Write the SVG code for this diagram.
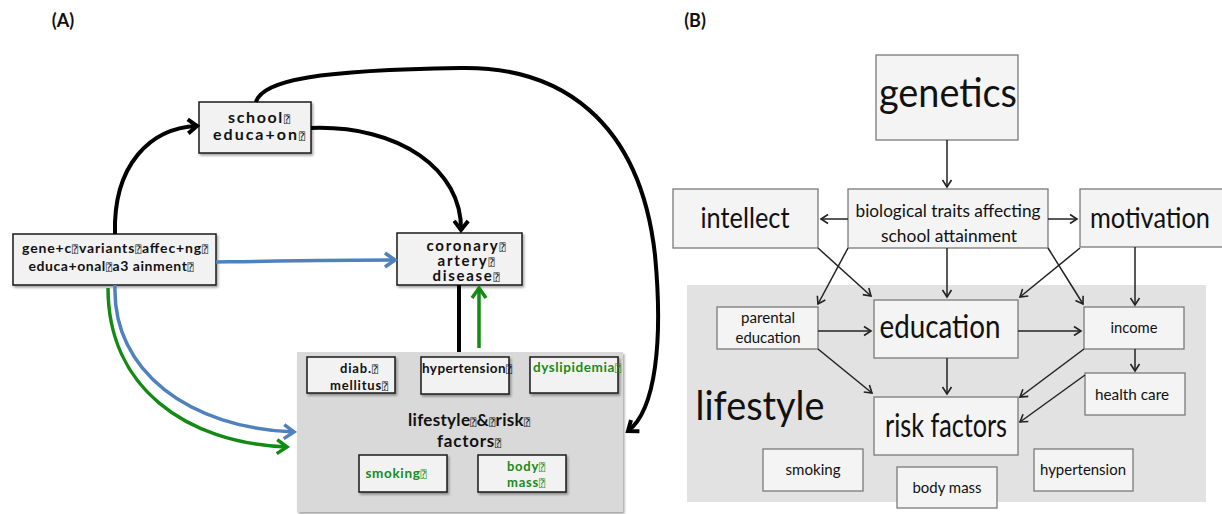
<svg xmlns="http://www.w3.org/2000/svg" width="1222" height="514" viewBox="0 0 1222 514">
<style>
.a{font-family:Lato,"DejaVu Sans",sans-serif;font-weight:bold;fill:#111;text-anchor:middle}
.g{fill:#1a8a1a}
.q{font-family:"DejaVu Sans Mono","DejaVu Sans",sans-serif;font-weight:normal;font-size:10px}
.b{font-family:Lato,"DejaVu Sans",sans-serif;fill:#111;text-anchor:middle}
.boxA{fill:#f2f2f2;stroke:#1a1a1a;stroke-width:1.5}
.boxB{fill:#f4f4f4;stroke:#7a7a7a;stroke-width:1.3}
.k{fill:none;stroke:#000;stroke-width:4}
.bl{fill:none;stroke:#4f81bd;stroke-width:3.5}
.gr{fill:none;stroke:#138a13;stroke-width:3.5}
.ln{fill:none;stroke:#222;stroke-width:1.5}
</style>
<defs>
<filter id="sh" x="-10%" y="-10%" width="130%" height="140%">
<feDropShadow dx="1.5" dy="2" stdDeviation="1.2" flood-color="#000" flood-opacity="0.35"/>
</filter>
<marker id="mk" markerUnits="userSpaceOnUse" markerWidth="20" markerHeight="20" refX="12" refY="10" orient="auto" overflow="visible">
<path d="M3,3 L12,10 L3,17" fill="none" stroke="#000" stroke-width="4"/>
</marker>
<marker id="mb" markerUnits="userSpaceOnUse" markerWidth="22" markerHeight="22" refX="13" refY="11" orient="auto" overflow="visible">
<path d="M3,4 L13,11 L3,18" fill="none" stroke="#4f81bd" stroke-width="3.5"/>
</marker>
<marker id="mg" markerUnits="userSpaceOnUse" markerWidth="22" markerHeight="22" refX="13" refY="11" orient="auto" overflow="visible">
<path d="M3,4 L13,11 L3,18" fill="none" stroke="#138a13" stroke-width="3.5"/>
</marker>
<marker id="m2" markerUnits="userSpaceOnUse" markerWidth="12" markerHeight="12" refX="8" refY="6" orient="auto" overflow="visible">
<path d="M1,1.5 L8,6 L1,10.5" fill="none" stroke="#222" stroke-width="1.6"/>
</marker>
</defs>
<rect width="1222" height="514" fill="#fff"/>

<!-- Panel A -->
<text class="a" x="63" y="27" font-size="18">(A)</text>

<g id="lifestyleA">
<rect x="297" y="352" width="326" height="160" fill="#d9d9d9" filter="url(#sh)"/>
<text class="a" x="469" y="426" font-size="17" textLength="122">lifestyle<tspan class="q">⍰</tspan>&amp;<tspan class="q">⍰</tspan>risk<tspan class="q">⍰</tspan></text>
<text class="a" x="469" y="447" font-size="17" textLength="64">factors<tspan class="q">⍰</tspan></text>
</g>
<g id="diab">
<rect class="boxA" x="307" y="357" width="88" height="36" filter="url(#sh)"/>
<text class="a" x="359" y="373" font-size="13" textLength="38">diab.<tspan class="q">⍰</tspan></text>
<text class="a" x="359" y="390" font-size="13" textLength="58">mellitus<tspan class="q">⍰</tspan></text>
</g>
<g id="hypertensionA">
<rect class="boxA" x="421" y="357" width="88" height="37" filter="url(#sh)"/>
<text class="a" x="467" y="373" font-size="13.5" textLength="90">hypertension<tspan class="q">⍰</tspan></text>
</g>
<g id="dyslipidemia">
<rect class="boxA" x="530" y="357" width="88" height="36" filter="url(#sh)"/>
<text class="a g" x="577" y="372" font-size="13.5" textLength="88">dyslipidemia<tspan class="q">⍰</tspan></text>
</g>
<g id="smokingA">
<rect class="boxA" x="359" y="455" width="88" height="37" filter="url(#sh)"/>
<text class="a g" x="396" y="478" font-size="13.5" textLength="61">smoking<tspan class="q">⍰</tspan></text>
</g>
<g id="bodymassA">
<rect class="boxA" x="478" y="455" width="88" height="37" filter="url(#sh)"/>
<text class="a g" x="526" y="471" font-size="13" textLength="38">body<tspan class="q">⍰</tspan></text>
<text class="a g" x="526" y="487" font-size="13" textLength="38">mass<tspan class="q">⍰</tspan></text>
</g>
<g id="school">
<rect class="boxA" x="199" y="102" width="112" height="51" filter="url(#sh)"/>
<text class="a" x="259" y="123" font-size="16" textLength="62">school<tspan class="q">⍰</tspan></text>
<text class="a" x="259" y="140" font-size="16" textLength="92">educa+on<tspan class="q">⍰</tspan></text>
</g>
<g id="genetic">
<rect class="boxA" x="13" y="234" width="203" height="51" filter="url(#sh)"/>
<text class="a" x="115" y="253" font-size="14" textLength="186">gene+c<tspan class="q">⍰</tspan>variants<tspan class="q">⍰</tspan>affec+ng<tspan class="q">⍰</tspan></text>
<text class="a" x="111" y="271" font-size="14" textLength="165">educa+onal<tspan class="q">⍰</tspan>a3 ainment<tspan class="q">⍰</tspan></text>
</g>
<g id="cad">
<rect class="boxA" x="397" y="233" width="125" height="52" filter="url(#sh)"/>
<text class="a" x="466" y="251" font-size="15" textLength="79">coronary<tspan class="q">⍰</tspan></text>
<text class="a" x="466" y="266" font-size="15" textLength="57">artery<tspan class="q">⍰</tspan></text>
<text class="a" x="466" y="281" font-size="15" textLength="67">disease<tspan class="q">⍰</tspan></text>
</g>

<g id="connectorsA">
<path class="k" d="M115,234 C113,165 150,128 197,126" marker-end="url(#mk)"/>
<path class="k" d="M311,128 C400,125 462,170 461,230" marker-end="url(#mk)"/>
<path class="k" d="M256,102 C262,80 320,70 460,68 C560,66 640,120 655,255 C663,340 656,410 628,431" marker-end="url(#mk)"/>
<path class="k" d="M459,285 V352"/>
<path class="bl" d="M216,262 C280,261 340,260 395,260" marker-end="url(#mb)"/>
<path class="bl" d="M115,285 C112,372 190,428 294,432" marker-end="url(#mb)"/>
<path class="gr" d="M108,288 C108,387 185,443 287,447" marker-end="url(#mg)"/>
<path class="gr" d="M479,348 V288" marker-end="url(#mg)"/>
</g>

<!-- Panel B -->
<text class="a" x="695" y="27" font-size="18">(B)</text>

<g id="lifestyleB">
<rect x="687" y="285" width="519" height="217" fill="#e2e2e2"/>
<text class="b" x="760" y="420" font-size="41" textLength="129" lengthAdjust="spacingAndGlyphs">lifestyle</text>
</g>
<g id="genetics">
<rect class="boxB" x="876" y="55" width="142" height="85"/>
<text class="b" x="948" y="107" font-size="41" textLength="138" lengthAdjust="spacingAndGlyphs">genetics</text>
</g>
<g id="biological">
<rect class="boxB" x="848" y="189" width="200" height="59"/>
<text class="b" x="948" y="217" font-size="17" textLength="185" lengthAdjust="spacingAndGlyphs">biological traits affecting</text>
<text class="b" x="949" y="242" font-size="17" textLength="136" lengthAdjust="spacingAndGlyphs">school attainment</text>
</g>
<g id="intellect">
<rect class="boxB" x="673" y="189" width="145" height="59"/>
<text class="b" x="745" y="228" font-size="29" textLength="89" lengthAdjust="spacingAndGlyphs">intellect</text>
</g>
<g id="motivation">
<rect class="boxB" x="1080" y="189" width="143" height="58"/>
<text class="b" x="1150" y="228" font-size="29" textLength="120" lengthAdjust="spacingAndGlyphs">motivation</text>
</g>
<g id="parental">
<rect class="boxB" x="717" y="307" width="101" height="42"/>
<text class="b" x="768" y="323" font-size="14.5" textLength="54" lengthAdjust="spacingAndGlyphs">parental</text>
<text class="b" x="768" y="343" font-size="14.5" textLength="65" lengthAdjust="spacingAndGlyphs">education</text>
</g>
<g id="education">
<rect class="boxB" x="874" y="300" width="144" height="58"/>
<text class="b" x="940" y="338" font-size="32" textLength="121" lengthAdjust="spacingAndGlyphs">education</text>
</g>
<g id="income">
<rect class="boxB" x="1084" y="307" width="100" height="42"/>
<text class="b" x="1134" y="333" font-size="14.5" textLength="47" lengthAdjust="spacingAndGlyphs">income</text>
</g>
<g id="healthcare">
<rect class="boxB" x="1085" y="373" width="100" height="42"/>
<text class="b" x="1132" y="400" font-size="15" textLength="74" lengthAdjust="spacingAndGlyphs">health care</text>
</g>
<g id="riskfactors">
<rect class="boxB" x="874" y="397" width="144" height="58"/>
<text class="b" x="946" y="437" font-size="32" textLength="122" lengthAdjust="spacingAndGlyphs">risk factors</text>
</g>
<g id="smokingB">
<rect class="boxB" x="763" y="449" width="100" height="42"/>
<text class="b" x="813" y="475" font-size="15" textLength="55" lengthAdjust="spacingAndGlyphs">smoking</text>
</g>
<g id="bodymassB">
<rect class="boxB" x="897" y="467" width="100" height="41"/>
<text class="b" x="947" y="493" font-size="15" textLength="69" lengthAdjust="spacingAndGlyphs">body mass</text>
</g>
<g id="hypertensionB">
<rect class="boxB" x="1034" y="449" width="99" height="42"/>
<text class="b" x="1083" y="475" font-size="15" textLength="86" lengthAdjust="spacingAndGlyphs">hypertension</text>
</g>

<g id="connectorsB">
<path class="ln" d="M947,140 V187" marker-end="url(#m2)"/>
<path class="ln" d="M848,219 H821" marker-end="url(#m2)"/>
<path class="ln" d="M1048,219 H1077" marker-end="url(#m2)"/>
<path class="ln" d="M818,248 L871,296" marker-end="url(#m2)"/>
<path class="ln" d="M848,248 L818,304" marker-end="url(#m2)"/>
<path class="ln" d="M947,248 V297" marker-end="url(#m2)"/>
<path class="ln" d="M1080,248 L1020,297" marker-end="url(#m2)"/>
<path class="ln" d="M1048,248 L1083,304" marker-end="url(#m2)"/>
<path class="ln" d="M1135,247 V305" marker-end="url(#m2)"/>
<path class="ln" d="M818,331 H871" marker-end="url(#m2)"/>
<path class="ln" d="M1018,331 H1081" marker-end="url(#m2)"/>
<path class="ln" d="M818,349 L872,393" marker-end="url(#m2)"/>
<path class="ln" d="M947,358 V394" marker-end="url(#m2)"/>
<path class="ln" d="M1084,349 L1020,397" marker-end="url(#m2)"/>
<path class="ln" d="M1135,349 V371" marker-end="url(#m2)"/>
<path class="ln" d="M1085,375 L1020,422" marker-end="url(#m2)"/>
</g>
</svg>
